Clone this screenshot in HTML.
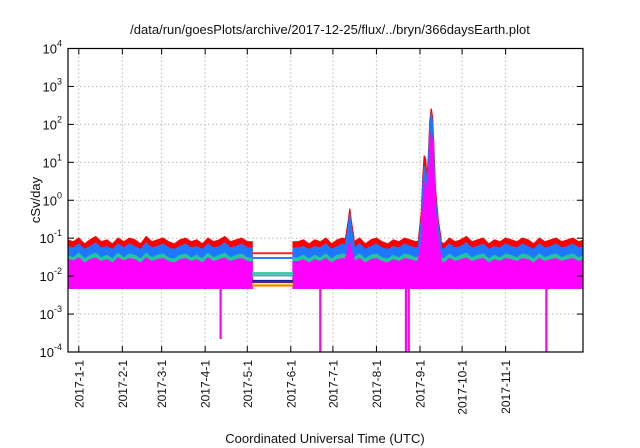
<!DOCTYPE html>
<html><head><meta charset="utf-8"><style>
html,body{margin:0;padding:0;background:#fff;}
svg{display:block;font-family:"Liberation Sans",sans-serif;}
</style></head><body>
<svg id="chart" width="640" height="448" viewBox="0 0 640 448" xmlns="http://www.w3.org/2000/svg">
<text x="330" y="34" font-size="13" text-anchor="middle" fill="#111">/data/run/goesPlots/archive/2017-12-25/flux/../bryn/366daysEarth.plot</text>
<text transform="translate(40,200) rotate(-90)" font-size="13" text-anchor="middle" fill="#111">cSv/day</text>
<text x="325" y="443" font-size="13" text-anchor="middle" fill="#111">Coordinated Universal Time (UTC)</text>
<g id="grid"></g><g id="marks"></g><g id="axes"></g>
</svg>
<script>
const decades=[-4,-3,-2,-1,0,1,2,3,4];
const monthDays=[0,31,59,90,120,151,181,212,243,273,304];
const monthLabels=["2017-1-1","2017-2-1","2017-3-1","2017-4-1","2017-5-1","2017-6-1","2017-7-1","2017-8-1","2017-9-1","2017-10-1","2017-11-1"];
const startDay=-8, stepDays=4;
const red=[.09,.08,.1,.07,.09,.11,.08,.09,.07,.1,.08,.1,.09,.07,.11,.08,.09,.1,.08,.07,.09,.1,.08,.09,.07,.1,.08,.09,.11,.08,.09,.1,.08,null,null,null,null,null,null,null,null,.08,.09,.07,.09,.08,.1,.07,.09,.1,.09,.08,.1,.07,.09,.1,.08,.07,.09,.08,.1,.09,.08,.09,.1,.08,.09,.07,.1,.08,.09,.11,.08,.09,.1,.07,.09,.08,.1,.09,.08,.1,.09,.07,.1,.08,.09,.1,.08,.09,.1,.08,.09];
const blue=[.06,.055,.07,.05,.06,.075,.055,.06,.05,.07,.055,.07,.06,.05,.075,.055,.06,.07,.055,.05,.06,.07,.055,.06,.05,.07,.055,.06,.075,.055,.06,.07,.055,null,null,null,null,null,null,null,null,.055,.06,.05,.06,.055,.07,.05,.06,.07,.06,.055,.07,.05,.06,.07,.055,.05,.06,.055,.07,.06,.055,.06,.07,.055,.06,.05,.07,.055,.06,.075,.055,.06,.07,.05,.06,.055,.07,.06,.055,.07,.06,.05,.07,.055,.06,.07,.055,.06,.07,.055,.06];
const green=[.035,.03,.04,.028,.035,.04,.03,.035,.028,.04,.03,.038,.035,.028,.04,.03,.035,.038,.03,.028,.035,.038,.03,.035,.028,.04,.03,.035,.04,.03,.035,.038,.03,null,null,null,null,null,null,null,null,.03,.035,.028,.035,.03,.038,.028,.035,.038,.035,.03,.038,.028,.035,.038,.03,.028,.035,.03,.038,.035,.03,.035,.038,.03,.035,.028,.038,.03,.035,.04,.03,.035,.038,.028,.035,.03,.038,.035,.03,.038,.035,.028,.038,.03,.035,.038,.03,.035,.038,.03,.035];
const magenta=[.028,.025,.03,.022,.027,.03,.024,.027,.022,.03,.025,.029,.027,.022,.03,.024,.027,.029,.024,.022,.027,.029,.024,.027,.022,.03,.024,.027,.03,.024,.027,.029,.024,null,null,null,null,null,null,null,null,.024,.027,.022,.027,.024,.029,.022,.027,.029,.027,.024,.029,.022,.027,.029,.024,.022,.027,.024,.029,.027,.024,.027,.029,.024,.027,.022,.029,.024,.027,.03,.024,.027,.029,.022,.027,.024,.029,.027,.024,.029,.027,.022,.029,.024,.027,.029,.024,.027,.029,.024,.027];
const floorValue=0.0048;
const gapStart=123.5, gapEnd=152.6;
const gapLevels=[0.04,0.03,0.012,0.0105,0.0075,0.007,0.006,0.0056];
const gapColors=["#ff2020","#2a7fff","#20d0a0","#30b0b0","#1020a0","#602080","#f0e020","#f08020"];
const julDays=[190,192,193,194,196];
const julRed=[0.1,0.3,0.6,0.3,0.1];
const julBlue=[0.07,0.2,0.45,0.2,0.07];
const julMagenta=[0.03,0.05,0.08,0.05,0.03];
const peakDays=[242,244,245,246,247,248,249,250,251,252,253,254,256,258];
const peakRed=[0.1,0.5,4,15,12,4,15,120,260,150,20,2,0.3,0.1];
const peakBlue=[0.07,0.3,2.5,8,6,3,10,80,200,100,12,1.2,0.2,0.07];
const peakMagenta=[0.03,0.08,0.5,3,3,1,3,20,60,30,5,0.5,0.08,0.03];
const dipDays=[101,172,233,235,333];
const dipValues=[0.00022,0.0001,0.0001,0.0001,0.0001];

const X0=68,X1=583,Y0=48.5,Y1=352;
const xs=d=>78.8+d*1.404;
const ys=v=>Y1-(Math.log10(v)+4)*(Y1-Y0)/8;
const NS="http://www.w3.org/2000/svg";
function mk(tag,attrs,parent){const e=document.createElementNS(NS,tag);for(const k in attrs)e.setAttribute(k,attrs[k]);parent.appendChild(e);return e;}
const grid=document.getElementById('grid'),marks=document.getElementById('marks'),axes=document.getElementById('axes');

decades.forEach(d=>{const y=ys(Math.pow(10,d));
 if(d>-4&&d<4){const l=mk('line',{x1:X0,x2:X1,y1:y,y2:y,stroke:'#bbb','stroke-dasharray':'1.5,2.5','stroke-width':1},grid);
 
 }
 const t=mk('text',{x:X0-6,y:y+5,'font-size':13,'text-anchor':'end',fill:'#111'},axes);
 
 
 t.textContent='10';const s=mk('tspan',{dy:-7,'font-size':9},t);s.textContent=String(d);
 mk('line',{x1:X0,x2:X0+6,y1:y,y2:y,stroke:'#000'},axes);
 mk('line',{x1:X1,x2:X1-6,y1:y,y2:y,stroke:'#000'},axes);
});
monthDays.forEach((d,i)=>{const x=xs(d);
 const l=mk('line',{x1:x,x2:x,y1:Y0,y2:Y1,stroke:'#bbb','stroke-dasharray':'1.5,2.5'},grid);
 
 
 mk('line',{x1:x,x2:x,y1:Y1,y2:Y1-6,stroke:'#000'},axes);
 mk('line',{x1:x,x2:x,y1:Y0,y2:Y0+6,stroke:'#000'},axes);
 const t=mk('text',{transform:`translate(${x+4.5},360) rotate(-90)`,'font-size':12,'text-anchor':'end',fill:'#111'},axes);
 
 
 t.textContent=monthLabels[i];
});
const frame=mk('rect',{x:X0,y:Y0,width:X1-X0,height:Y1-Y0,fill:'none',stroke:'#000','stroke-width':1.2},axes);



function segments(arr){const segs=[];let cur=[];let prev=null;
 arr.forEach((v,i)=>{const d=startDay+i*stepDays;
  if(v==null){if(cur.length){cur.push([gapStart,prev]);segs.push(cur);}cur=[];}
  else{if(!cur.length&&i>0&&arr[i-1]==null)cur.push([gapEnd,v]);cur.push([d,v]);}
  prev=v;});
 if(cur.length)segs.push(cur);return segs;}
function area(pts,color,name){
 let d='M'+xs(pts[0][0])+','+ys(floorValue);
 pts.forEach(p=>{d+='L'+xs(p[0])+','+ys(p[1]);});
 d+='L'+xs(pts[pts.length-1][0])+','+ys(floorValue)+'Z';
 const p=mk('path',{d:d,fill:color,stroke:color,'stroke-width':1.2},marks);
 
 
}
const layers=[
 [red,'#ff0000','series-red',julRed,peakRed],
 [blue,'#1e78ff','series-blue',julBlue,peakBlue],
 [green,'#20c8a0','series-green',null,null],
 [magenta,'#ff00ff','series-magenta',julMagenta,peakMagenta]];
layers.forEach(s=>{
 segments(s[0]).forEach(seg=>area(seg,s[1],s[2]));
 if(s[3])area(julDays.map((d,i)=>[d,s[3][i]]),s[1],s[2]+'-july-event');
 if(s[4])area(peakDays.map((d,i)=>[d,s[4][i]]),s[1],s[2]+'-sep-event');
});
gapLevels.forEach((v,i)=>{
 const l=mk('line',{x1:xs(gapStart),x2:xs(gapEnd),y1:ys(v),y2:ys(v),stroke:gapColors[i],'stroke-width':2},marks);
 
 
});
dipDays.forEach((d,i)=>{
 const l=mk('line',{x1:xs(d),x2:xs(d),y1:ys(floorValue),y2:ys(dipValues[i]),stroke:'#ff00ff','stroke-width':2.2},marks);
 
 
});
const cp=mk('clipPath',{id:'pc'},document.getElementById('chart'));
mk('rect',{x:X0,y:Y0,width:X1-X0,height:Y1-Y0},cp);
marks.setAttribute('clip-path','url(#pc)');
</script>
</body></html>
